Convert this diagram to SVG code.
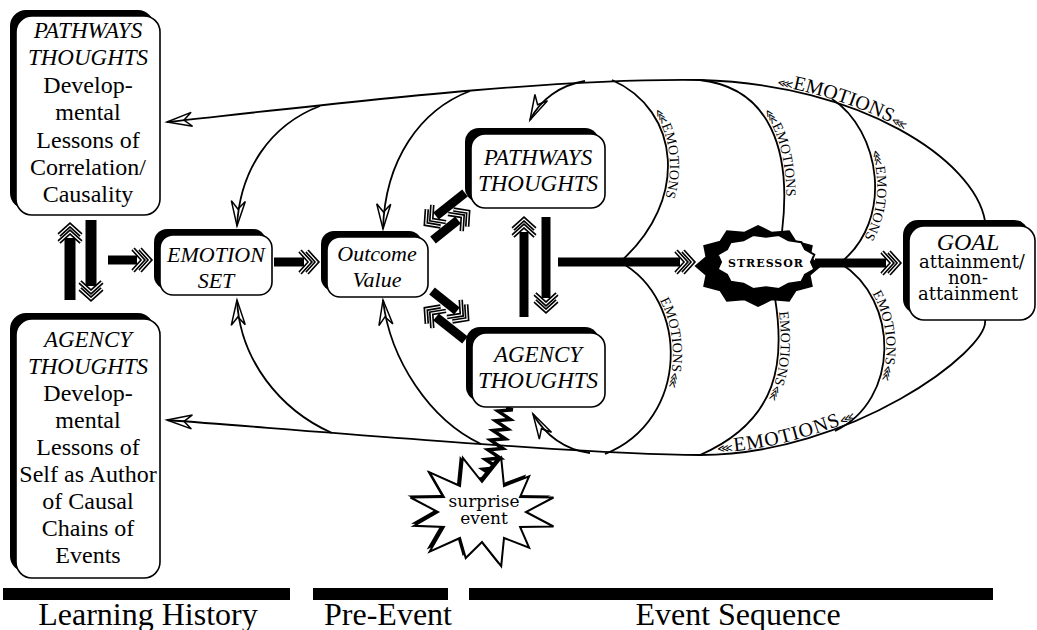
<svg xmlns="http://www.w3.org/2000/svg" width="1037" height="630" viewBox="0 0 1037 630">
<defs>
<style>
.sh{fill:#000}
.bx{fill:#fff;stroke:#000;stroke-width:1.6}
.t{font-family:"Liberation Serif","Times New Roman",serif;fill:#000;text-anchor:middle}
.i{font-style:italic}
.ln{fill:none;stroke:#000;stroke-width:1.8}
.thk{fill:none;stroke:#000;stroke-width:9;marker-end:url(#dh)}
.thkL{fill:none;stroke:#000;stroke-width:11;marker-end:url(#dh)}
.em{font-family:"Liberation Serif","Times New Roman",serif;font-size:14px;fill:#000}
.emB{font-family:"Liberation Serif","Times New Roman",serif;font-size:20px;fill:#000}
.chev{font-family:"DejaVu Sans",sans-serif;font-size:11px}
.g{font-family:"DejaVu Serif",serif;fill:#000;text-anchor:middle}
</style>
<marker id="ah" markerUnits="userSpaceOnUse" markerWidth="30" markerHeight="20" viewBox="-28 -10 30 20" refX="0" refY="0" orient="auto" overflow="visible">
<path d="M0,0 L-25,-7 L-17,0 L-25,7 Z" fill="none" stroke="#000" stroke-width="1.5" stroke-linejoin="miter"/>
</marker>
<marker id="dh" markerUnits="userSpaceOnUse" markerWidth="40" markerHeight="40" viewBox="-10 -20 40 40" refX="0" refY="0" orient="auto" overflow="visible">
<path d="M-4,-11 L6,0 L-4,11 M3,-11 L13,0 L3,11" fill="none" stroke="#000" stroke-width="4.5"/>
<path d="M-4,-11 L6,0 L-4,11 M3,-11 L13,0 L3,11" fill="none" stroke="#fff" stroke-width="1.2"/>
</marker>
</defs>
<rect width="1037" height="630" fill="#fff"/>

<g id="connectors">
<path id="topOuter" class="ln" d="M985,221 C975,160 860,84 700,80 C550,78 350,102 167,122" marker-end="url(#ah)"/>
<path id="botOuter" class="ln" d="M985,320 C990,350 850,455 700,455 C600,455 400,438 167,420" marker-end="url(#ah)"/>
<path id="topLR" fill="none" stroke="none" d="M167,122 C350,102 550,78 700,80 C860,84 975,160 985,221"/>
<path id="botLR" fill="none" stroke="none" d="M167,420 C400,438 600,455 700,455 C850,455 990,350 985,320"/>
<path class="ln" d="M320,106 C270,125 240,170 237,226" marker-end="url(#ah)"/>
<path class="ln" d="M470,91 C420,110 385,160 383,229" marker-end="url(#ah)"/>
<path class="ln" d="M585,81 C560,85 540,100 530,120" marker-end="url(#ah)"/>
<path class="ln" d="M332,433 C280,410 240,360 237,300" marker-end="url(#ah)"/>
<path class="ln" d="M481,444 C430,420 390,360 383,300" marker-end="url(#ah)"/>
<path class="ln" d="M590,453 C565,450 545,435 533,414" marker-end="url(#ah)"/>
<path id="u1" class="ln" d="M612,80 C680,110 690,200 620,262"/>
<path id="l1" class="ln" d="M620,262 C690,300 690,420 605,454"/>
<path id="u2" class="ln" d="M700,80 C770,88 792,150 782,232"/>
<path id="l2" class="ln" d="M775,298 C785,360 780,420 700,455"/>
<path id="u3" class="ln" d="M832,99 C880,130 895,220 840,263"/>
<path id="l3" class="ln" d="M840,263 C900,300 900,400 835,431"/>
<line class="thkL" x1="70" y1="300" x2="70" y2="238"/>
<line class="thkL" x1="91" y1="220" x2="91" y2="286"/>
<line class="thk" x1="108" y1="260" x2="137" y2="260"/>
<line class="thk" x1="274" y1="262" x2="304" y2="262"/>
<line class="thk" x1="465" y1="193" x2="436" y2="216"/>
<line class="thk" x1="433" y1="240" x2="458" y2="220"/>
<line class="thk" x1="432" y1="291" x2="457" y2="311"/>
<line class="thk" x1="465" y1="340" x2="436" y2="317"/>
<line class="thk" x1="524" y1="317" x2="524" y2="232"/>
<line class="thk" x1="546" y1="217" x2="546" y2="298"/>
<line class="thk" x1="558" y1="262" x2="680" y2="262"/>
<line class="thk" x1="815" y1="263" x2="886" y2="263"/>
<polyline fill="none" stroke="#000" stroke-width="3.5" stroke-linejoin="miter" points="506,408 512.8,409.7 498,411.1 510.3,419.4 495.5,420.8 507.8,429.1 493,430.5 505.3,438.8 490.5,440.1 502.8,448.5 488,449.8 500.3,458.1 485.5,459.5 497.8,467.8 483,469.2 495.4,477.5 480.5,478.9 486,492"/>
</g>

<g id="node-pathways-history">
<rect class="sh" x="10" y="10" width="144" height="199" rx="16"/>
<rect class="bx" x="16" y="16" width="144" height="199" rx="16"/>
<text class="t i" font-size="23"><tspan x="88" y="38">PATHWAYS</tspan><tspan x="88" y="65">THOUGHTS</tspan></text>
<text class="t" font-size="24"><tspan x="88" y="93">Develop-</tspan><tspan x="88" y="120">mental</tspan><tspan x="88" y="148">Lessons of</tspan><tspan x="88" y="175">Correlation/</tspan><tspan x="88" y="202">Causality</tspan></text>
</g>

<g id="node-agency-history">
<rect class="sh" x="10" y="313" width="144" height="259" rx="16"/>
<rect class="bx" x="16" y="319" width="144" height="259" rx="16"/>
<text class="t i" font-size="23"><tspan x="88" y="347">AGENCY</tspan><tspan x="88" y="374">THOUGHTS</tspan></text>
<text class="t" font-size="24"><tspan x="88" y="401">Develop-</tspan><tspan x="88" y="428">mental</tspan><tspan x="88" y="455">Lessons of</tspan><tspan x="88" y="482">Self as Author</tspan><tspan x="88" y="509">of Causal</tspan><tspan x="88" y="536">Chains of</tspan><tspan x="88" y="563">Events</tspan></text>
</g>

<g id="node-emotion-set">
<rect class="sh" x="154" y="229" width="112" height="60" rx="13"/>
<rect class="bx" x="160" y="235" width="112" height="60" rx="13"/>
<text class="t i" font-size="22"><tspan x="216" y="262">EMOTION</tspan><tspan x="216" y="288">SET</tspan></text>
</g>

<g id="node-outcome-value">
<rect class="sh" x="321" y="231" width="101" height="60" rx="13"/>
<rect class="bx" x="327" y="237" width="101" height="60" rx="13"/>
<text class="t i" font-size="22"><tspan x="377" y="261">Outcome</tspan><tspan x="377" y="287">Value</tspan></text>
</g>

<g id="node-pathways">
<rect class="sh" x="465" y="128" width="134" height="74" rx="14"/>
<rect class="bx" x="471" y="134" width="134" height="74" rx="14"/>
<text class="t i" font-size="23"><tspan x="538" y="165">PATHWAYS</tspan><tspan x="538" y="191">THOUGHTS</tspan></text>
</g>

<g id="node-agency">
<rect class="sh" x="466" y="327" width="133" height="74" rx="14"/>
<rect class="bx" x="472" y="333" width="133" height="74" rx="14"/>
<text class="t i" font-size="23"><tspan x="538" y="362">AGENCY</tspan><tspan x="538" y="388">THOUGHTS</tspan></text>
</g>

<g id="node-stressor">
<polygon fill="#000" stroke="#000" stroke-width="2" points="820,266 809.5,274.9 811.7,286 795.7,290.3 789,300.6 771.8,299.2 758,306 744.2,299.2 727,300.6 720.3,290.3 704.3,286 706.5,274.9 696,266 706.5,257.1 704.3,246 720.3,241.7 727,231.4 744.2,232.8 758,226 771.8,232.8 789,231.4 795.7,241.7 811.7,246 809.5,257.1"/>
<polygon fill="#fff" stroke="#000" stroke-width="2" points="811,262 814.3,269.3 805,274.6 801.4,281.8 788.5,283.8 779,289 766,287.2 753,289 743.5,283.8 730.6,281.8 727,274.6 717.7,269.3 721,262 717.7,254.7 727,249.4 730.6,242.2 743.5,240.2 753,235 766,236.8 779,235 788.5,240.2 801.4,242.2 805,249.4 814.3,254.7"/>
<text class="g" x="766" y="267" font-size="11" font-weight="bold" letter-spacing="1">STRESSOR</text>
</g>

<g id="node-goal">
<rect class="sh" x="903" y="220" width="126" height="94" rx="15"/>
<rect class="bx" x="909" y="226" width="126" height="94" rx="15"/>
<text class="t i" x="968" y="250" font-size="24">GOAL</text>
<text class="g" font-size="18"><tspan x="972" y="268">attainment/</tspan><tspan x="968" y="284">non-</tspan><tspan x="968" y="300">attainment</tspan></text>
</g>

<g id="node-surprise">
<polygon fill="#000" transform="translate(-3,-2)" points="526,512 553.5,526.5 520.1,527 529.1,547.6 504,538 501.2,566.1 482,542 465.7,558 460,538 429.7,551.6 443.9,527 414,525.8 438,512 410.5,497.5 443.9,497 429.7,472.4 460,486 462.8,457.9 482,482 501.2,457.9 504,486 529.1,476.4 520.1,497 553.5,497.5"/>
<polygon fill="#fff" stroke="#000" stroke-width="2" points="526,512 553.5,526.5 520.1,527 529.1,547.6 504,538 501.2,566.1 482,542 465.7,558 460,538 429.7,551.6 443.9,527 414,525.8 438,512 410.5,497.5 443.9,497 429.7,472.4 460,486 462.8,457.9 482,482 501.2,457.9 504,486 529.1,476.4 520.1,497 553.5,497.5"/>
<text class="g" font-size="17"><tspan x="484" y="507">surprise</tspan><tspan x="484" y="524">event</tspan></text>
</g>

<g id="connector-labels">
<text class="emB" dy="-2"><textPath href="#topLR" startOffset="612"><tspan class="chev" font-size="13">⋘</tspan>EMOTIONS<tspan class="chev" font-size="13">⋘</tspan></textPath></text>
<text class="emB" dy="-2" letter-spacing="1"><textPath href="#botLR" startOffset="552"><tspan class="chev" font-size="13">⋘</tspan>EMOTIONS<tspan class="chev" font-size="13">⋘</tspan></textPath></text>
<text class="em" dy="-2"><textPath href="#u1" startOffset="52"><tspan class="chev">⋘</tspan>EMOTIONS</textPath></text>
<text class="em" dy="-2"><textPath href="#u2" startOffset="72"><tspan class="chev">⋘</tspan>EMOTIONS</textPath></text>
<text class="em" dy="-2"><textPath href="#u3" startOffset="66"><tspan class="chev">⋘</tspan>EMOTIONS</textPath></text>
<text class="em" dy="-2"><textPath href="#l1" startOffset="55">EMOTIONS<tspan class="chev">⋘</tspan></textPath></text>
<text class="em" dy="-2"><textPath href="#l2" startOffset="14">EMOTIONS<tspan class="chev">⋘</tspan></textPath></text>
<text class="em" dy="-2"><textPath href="#l3" startOffset="44">EMOTIONS<tspan class="chev">⋘</tspan></textPath></text>
</g>

<g id="timeline">
<rect x="3" y="588" width="287" height="12" fill="#000"/>
<rect x="313" y="588" width="135" height="12" fill="#000"/>
<rect x="469" y="588" width="524" height="12" fill="#000"/>
<text class="t" x="148" y="625" font-size="32">Learning History</text>
<text class="t" x="388" y="625" font-size="32">Pre-Event</text>
<text class="t" x="738" y="625" font-size="32">Event Sequence</text>
</g>
</svg>
